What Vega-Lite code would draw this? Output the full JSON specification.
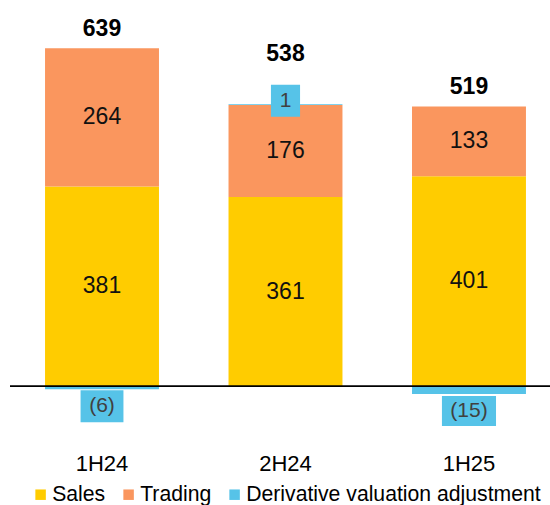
{
  "$schema": "https://vega.github.io/schema/vega-lite/v6.json",
  "width": 540,
  "height": 419,
  "autosize": {"type": "none"},
  "padding": {"left": 10, "top": 30, "right": 0, "bottom": 56},
  "config": {"view": {"stroke": null}, "font": "Liberation Sans"},
  "data": {
    "values": [
      {"period": "1H24", "series": "Sales", "value": 381},
      {"period": "1H24", "series": "Trading", "value": 264},
      {"period": "1H24", "series": "Derivative valuation adjustment", "value": -6},
      {"period": "2H24", "series": "Sales", "value": 361},
      {"period": "2H24", "series": "Trading", "value": 176},
      {"period": "2H24", "series": "Derivative valuation adjustment", "value": 1},
      {"period": "1H25", "series": "Sales", "value": 401},
      {"period": "1H25", "series": "Trading", "value": 133},
      {"period": "1H25", "series": "Derivative valuation adjustment", "value": -15}
    ]
  },
  "transform": [
    {"calculate": "indexof(['Sales','Trading','Derivative valuation adjustment'], datum.series)", "as": "ord"},
    {"stack": "value", "groupby": ["period"], "sort": [{"field": "ord", "order": "ascending"}], "as": ["v0", "v1"]},
    {"calculate": "(datum.v0 + datum.v1) / 2", "as": "mid"},
    {"calculate": "datum.value < 0 ? '(' + (-datum.value) + ')' : '' + datum.value", "as": "label"}
  ],
  "layer": [
    {
      "mark": {"type": "bar"},
      "encoding": {
        "x": {"field": "period", "type": "nominal", "sort": ["1H24", "2H24", "1H25"],
          "scale": {"paddingInner": 0.379, "paddingOuter": 0.161, "align": 0.593},
          "axis": {"title": null, "domain": false, "ticks": false, "labelAngle": 0, "labelFontSize": 22, "labelColor": "#000000", "labelPadding": 4, "labelFont": "Liberation Sans"}},
        "y": {"field": "v0", "type": "quantitative", "scale": {"domain": [-120, 680], "nice": false, "zero": false}, "axis": null},
        "y2": {"field": "v1"},
        "color": {"field": "series", "type": "nominal",
          "scale": {"domain": ["Sales", "Trading", "Derivative valuation adjustment"], "range": ["#FFCC00", "#FA965E", "#56C3E8"]},
          "legend": {"orient": "none", "legendX": 20, "legendY": 454, "direction": "horizontal", "title": null, "symbolType": "square", "symbolSize": 110, "symbolStrokeWidth": 0, "labelFontSize": 21.2, "labelColor": "#000000", "labelOffset": 1, "columnPadding": 12, "padding": 0, "labelLimit": 400}}
      }
    },
    {
      "transform": [{"aggregate": [{"op": "count", "as": "n"}]}],
      "mark": {"type": "rule", "color": "#000000", "strokeWidth": 1.6},
      "encoding": {
        "y": {"datum": 0, "type": "quantitative", "scale": {"domain": [-120, 680], "nice": false, "zero": false}}
      }
    },
    {
      "transform": [{"filter": "datum.series != 'Derivative valuation adjustment'"}],
      "mark": {"type": "text", "fontSize": 23, "color": "#111111", "baseline": "middle"},
      "encoding": {
        "x": {"field": "period", "type": "nominal", "sort": ["1H24", "2H24", "1H25"]},
        "y": {"field": "mid", "type": "quantitative", "scale": {"domain": [-120, 680], "nice": false, "zero": false}},
        "text": {"field": "label"}
      }
    },
    {
      "transform": [{"filter": "datum.series == 'Derivative valuation adjustment'"}],
      "mark": {"type": "point", "filled": true, "opacity": 1, "size": 1024, "color": "#56C3E8", "strokeWidth": 0,
        "yOffset": {"expr": "datum.value < 0 ? 17 : -3.5"}},
      "encoding": {
        "x": {"field": "period", "type": "nominal", "sort": ["1H24", "2H24", "1H25"]},
        "y": {"field": "v1", "type": "quantitative", "scale": {"domain": [-120, 680], "nice": false, "zero": false}},
        "shape": {"field": "label", "type": "nominal",
          "scale": {"domain": ["(6)", "1", "(15)"], "range": ["M-1.34,-1L1.34,-1L1.34,1L-1.34,1Z", "M-0.91,-1L0.91,-1L0.91,1L-0.91,1Z", "M-1.69,-0.94L1.69,-0.94L1.69,0.94L-1.69,0.94Z"]},
          "legend": null}
      }
    },
    {
      "transform": [{"filter": "datum.series == 'Derivative valuation adjustment'"}],
      "mark": {"type": "text", "fontSize": 21, "color": "#404040", "baseline": "middle",
        "yOffset": {"expr": "datum.value < 0 ? 17 : -3.5"}},
      "encoding": {
        "x": {"field": "period", "type": "nominal", "sort": ["1H24", "2H24", "1H25"]},
        "y": {"field": "v1", "type": "quantitative", "scale": {"domain": [-120, 680], "nice": false, "zero": false}},
        "text": {"field": "label"}
      }
    },
    {
      "transform": [
        {"calculate": "max(datum.value, 0)", "as": "pos"},
        {"calculate": "datum.series == 'Derivative valuation adjustment' && datum.value > 0 ? 1 : 0", "as": "flag"},
        {"aggregate": [{"op": "sum", "field": "value", "as": "total"}, {"op": "sum", "field": "pos", "as": "top"}, {"op": "max", "field": "flag", "as": "flag"}], "groupby": ["period"]}
      ],
      "mark": {"type": "text", "fontSize": 23, "fontWeight": "bold", "color": "#000000", "baseline": "alphabetic",
        "yOffset": {"expr": "datum.flag > 0 ? -43.5 : -12"}},
      "encoding": {
        "x": {"field": "period", "type": "nominal", "sort": ["1H24", "2H24", "1H25"]},
        "y": {"field": "top", "type": "quantitative", "scale": {"domain": [-120, 680], "nice": false, "zero": false}},
        "text": {"field": "total", "type": "quantitative", "format": "d"}
      }
    }
  ]
}
